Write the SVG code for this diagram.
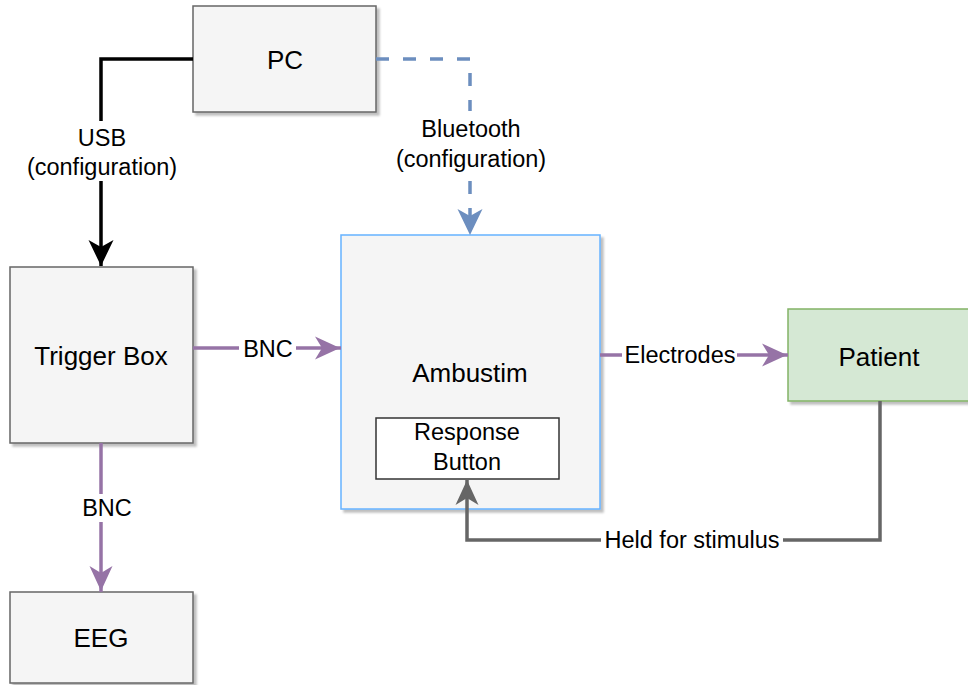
<svg xmlns="http://www.w3.org/2000/svg" width="968" height="685" viewBox="0 0 968 685">
<style>
  .node { fill: #f5f5f5; stroke: #666666; stroke-width: 1.5; }
  .nlabel { font-family: "Liberation Sans", Arial, sans-serif; font-size: 26px; fill: #000; text-anchor: middle; }
  .elabel { font-family: "Liberation Sans", Arial, sans-serif; font-size: 23.5px; fill: #000; text-anchor: middle; }
  .lbg { fill: #ffffff; }
  .edge { fill: none; stroke-width: 3.5; }
</style>
<defs>
  <filter id="shadow" x="-10%" y="-10%" width="130%" height="130%">
    <feDropShadow dx="3" dy="3" stdDeviation="1" flood-color="#000" flood-opacity="0.25"/>
  </filter>
  <marker id="aBlack" markerUnits="userSpaceOnUse" viewBox="-1 -14 29 28" refX="26" refY="0" markerWidth="29" markerHeight="28" orient="auto">
    <path d="M0,-12.5 L26,0 L0,12.5 L7,0 Z" fill="#000000"/>
  </marker>
  <marker id="aBlue" markerUnits="userSpaceOnUse" viewBox="-1 -14 29 28" refX="26" refY="0" markerWidth="29" markerHeight="28" orient="auto">
    <path d="M0,-12.5 L26,0 L0,12.5 L7,0 Z" fill="#6c8ebf"/>
  </marker>
  <marker id="aPurple" markerUnits="userSpaceOnUse" viewBox="-1 -14 29 28" refX="26" refY="0" markerWidth="29" markerHeight="28" orient="auto">
    <path d="M0,-11.5 L25,0 L0,11.5 L7,0 Z" fill="#9673a6"/>
  </marker>
  <marker id="aGray" markerUnits="userSpaceOnUse" viewBox="-1 -14 29 28" refX="26" refY="0" markerWidth="29" markerHeight="28" orient="auto">
    <path d="M0,-11.5 L25,0 L0,11.5 L7,0 Z" fill="#666666"/>
  </marker>
</defs>
<rect width="968" height="685" fill="#ffffff"/>

<g id="pc">
  <rect class="node" x="193" y="6" width="183" height="106" filter="url(#shadow)"/>
  <text class="nlabel" x="285" y="69">PC</text>
</g>
<g id="trigger-box">
  <rect class="node" x="10" y="267" width="183" height="176" filter="url(#shadow)"/>
  <text class="nlabel" x="101" y="365">Trigger Box</text>
</g>
<g id="eeg">
  <rect class="node" x="10" y="592" width="183" height="91" filter="url(#shadow)"/>
  <text class="nlabel" x="101" y="647">EEG</text>
</g>
<g id="ambustim">
  <rect x="341" y="235" width="259" height="274" fill="#f5f5f5" stroke="#66b2ff" stroke-width="1.5" filter="url(#shadow)"/>
  <text class="nlabel" x="470" y="382">Ambustim</text>
</g>
<g id="response-button">
  <rect x="376" y="418" width="183" height="61" fill="#ffffff" stroke="#333333" stroke-width="1.5"/>
  <text class="elabel" x="467" y="440">Response</text>
  <text class="elabel" x="467" y="470">Button</text>
</g>
<g id="patient">
  <rect x="788" y="309" width="182" height="92" fill="#d5e8d4" stroke="#82b366" stroke-width="1.5" filter="url(#shadow)"/>
  <text class="nlabel" x="879" y="366">Patient</text>
</g>

<g id="connectors">
  <g id="e-usb">
    <path class="edge" d="M193,59 L101,59 L101,266" stroke="#000000" marker-end="url(#aBlack)"/>
    <rect class="lbg" x="24" y="121" width="158" height="60"/>
    <text class="elabel" x="102" y="146">USB</text>
    <text class="elabel" x="102" y="175">(configuration)</text>
  </g>
  <g id="e-bt">
    <path class="edge" d="M376,59 L470,59 L470,235" stroke="#6c8ebf" stroke-dasharray="13 14" marker-end="url(#aBlue)"/>
    <rect class="lbg" x="393" y="111" width="158" height="60"/>
    <text class="elabel" x="471" y="137">Bluetooth</text>
    <text class="elabel" x="471" y="167">(configuration)</text>
  </g>
  <g id="e-bnc1">
    <path class="edge" d="M193,348 L341,348" stroke="#9673a6" marker-end="url(#aPurple)"/>
    <rect class="lbg" x="239" y="334" width="57" height="28"/>
    <text class="elabel" x="268" y="357">BNC</text>
  </g>
  <g id="e-bnc2">
    <path class="edge" d="M101,443 L101,592" stroke="#9673a6" marker-end="url(#aPurple)"/>
    <rect class="lbg" x="80" y="494" width="55" height="28"/>
    <text class="elabel" x="107" y="516">BNC</text>
  </g>
  <g id="e-electrodes">
    <path class="edge" d="M600,355 L788,355" stroke="#9673a6" marker-end="url(#aPurple)"/>
    <rect class="lbg" x="622" y="341" width="115" height="28"/>
    <text class="elabel" x="680" y="363">Electrodes</text>
  </g>
  <g id="e-held">
    <path class="edge" d="M880,401 L880,540 L467,540 L467,479" stroke="#666666" marker-end="url(#aGray)"/>
    <rect class="lbg" x="601" y="527" width="182" height="28"/>
    <text class="elabel" x="692" y="548">Held for stimulus</text>
  </g>
</g>
</svg>
